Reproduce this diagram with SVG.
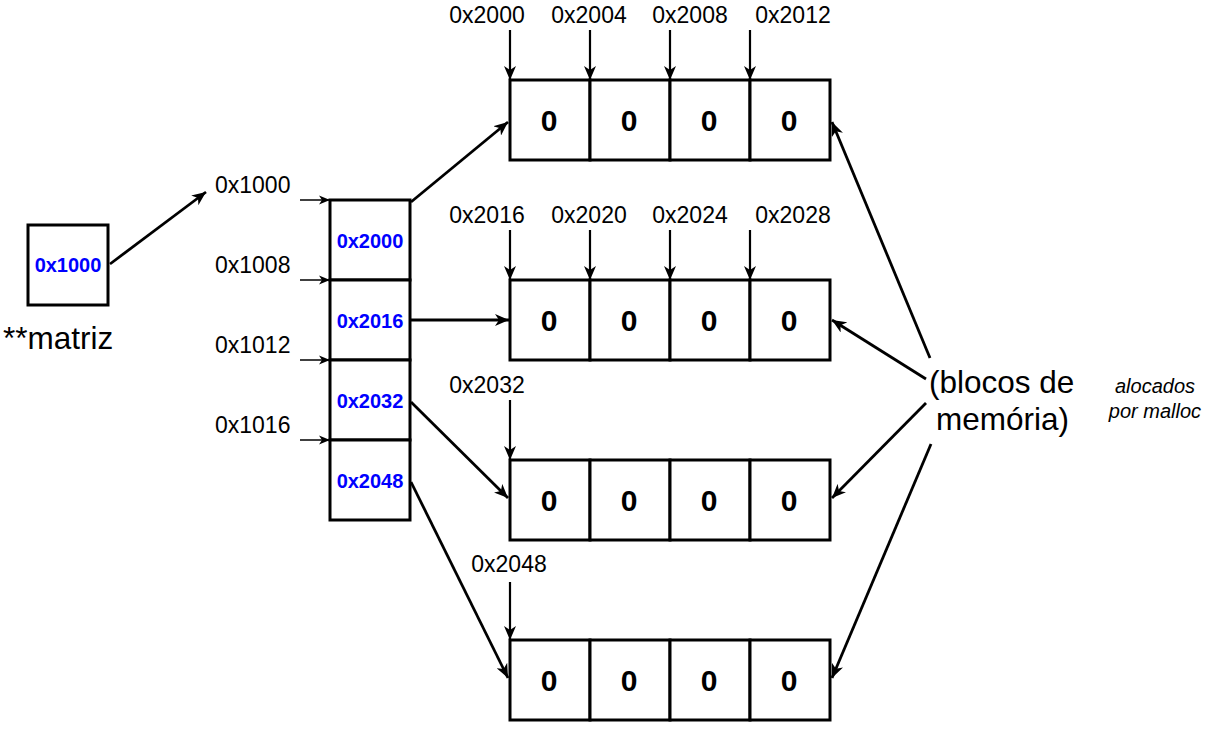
<svg xmlns="http://www.w3.org/2000/svg" width="1225" height="730" viewBox="0 0 1225 730">
<style>
.box{fill:#fff;stroke:#000;stroke-width:3}
.zero{font-family:"Liberation Sans",Arial,sans-serif;font-weight:bold;font-size:30px;text-anchor:middle;fill:#000}
.ptr{font-family:"Liberation Sans",Arial,sans-serif;font-weight:bold;font-size:20px;text-anchor:middle;fill:#0000ff}
.lbl{font-family:"Liberation Sans",Arial,sans-serif;font-size:23px;fill:#000}
.lblm{font-family:"Liberation Sans",Arial,sans-serif;font-size:23px;fill:#000;text-anchor:middle}
.big{font-family:"Liberation Sans",Arial,sans-serif;font-size:31.5px;fill:#000}
.it{font-family:"Liberation Sans",Arial,sans-serif;font-size:20px;font-style:italic;fill:#000;text-anchor:middle}
.c{fill:none;stroke:#000;stroke-width:2.8}
.cs{fill:none;stroke:#000;stroke-width:1.5}
.cv{fill:none;stroke:#000;stroke-width:2.2}
</style>
<defs>
<marker id="ah" markerUnits="userSpaceOnUse" markerWidth="16" markerHeight="12" refX="14" refY="6" orient="auto">
<path d="M0,0 L14,6 L0,12 L4,6 z" fill="#000"/>
</marker>
<marker id="ahs" markerUnits="userSpaceOnUse" markerWidth="12" markerHeight="10" refX="11" refY="5" orient="auto">
<path d="M0,0.5 L11,5 L0,9.5 L3,5 z" fill="#000"/>
</marker>
</defs>

<g id="matriz">
<rect class="box" x="28" y="225" width="80" height="80"/>
<text class="ptr" x="68" y="272">0x1000</text>
<text class="big" x="3" y="349">**matriz</text>
</g>

<g id="ptr-array">
<rect class="box" x="330" y="200" width="80" height="80"/>
<rect class="box" x="330" y="280" width="80" height="80"/>
<rect class="box" x="330" y="360" width="80" height="80"/>
<rect class="box" x="330" y="440" width="80" height="80"/>
<text class="ptr" x="370" y="248">0x2000</text>
<text class="ptr" x="370" y="328">0x2016</text>
<text class="ptr" x="370" y="408">0x2032</text>
<text class="ptr" x="370" y="488">0x2048</text>
<text class="lbl" x="215" y="193">0x1000</text>
<text class="lbl" x="215" y="273">0x1008</text>
<text class="lbl" x="215" y="353">0x1012</text>
<text class="lbl" x="215" y="433">0x1016</text>
</g>

<g id="row1">
<rect class="box" x="510" y="80" width="80" height="80"/>
<rect class="box" x="590" y="80" width="80" height="80"/>
<rect class="box" x="670" y="80" width="80" height="80"/>
<rect class="box" x="750" y="80" width="80" height="80"/>
<text class="zero" x="549" y="131">0</text>
<text class="zero" x="629" y="131">0</text>
<text class="zero" x="709" y="131">0</text>
<text class="zero" x="789" y="131">0</text>
<text class="lblm" x="487" y="23">0x2000</text>
<text class="lblm" x="589" y="23">0x2004</text>
<text class="lblm" x="690" y="23">0x2008</text>
<text class="lblm" x="793" y="23">0x2012</text>
</g>

<g id="row2">
<rect class="box" x="510" y="280" width="80" height="80"/>
<rect class="box" x="590" y="280" width="80" height="80"/>
<rect class="box" x="670" y="280" width="80" height="80"/>
<rect class="box" x="750" y="280" width="80" height="80"/>
<text class="zero" x="549" y="331">0</text>
<text class="zero" x="629" y="331">0</text>
<text class="zero" x="709" y="331">0</text>
<text class="zero" x="789" y="331">0</text>
<text class="lblm" x="487" y="223">0x2016</text>
<text class="lblm" x="589" y="223">0x2020</text>
<text class="lblm" x="690" y="223">0x2024</text>
<text class="lblm" x="793" y="223">0x2028</text>
</g>

<g id="row3">
<rect class="box" x="510" y="460" width="80" height="80"/>
<rect class="box" x="590" y="460" width="80" height="80"/>
<rect class="box" x="670" y="460" width="80" height="80"/>
<rect class="box" x="750" y="460" width="80" height="80"/>
<text class="zero" x="549" y="511">0</text>
<text class="zero" x="629" y="511">0</text>
<text class="zero" x="709" y="511">0</text>
<text class="zero" x="789" y="511">0</text>
<text class="lblm" x="487" y="393">0x2032</text>
</g>

<g id="row4">
<rect class="box" x="510" y="640" width="80" height="80"/>
<rect class="box" x="590" y="640" width="80" height="80"/>
<rect class="box" x="670" y="640" width="80" height="80"/>
<rect class="box" x="750" y="640" width="80" height="80"/>
<text class="zero" x="549" y="691">0</text>
<text class="zero" x="629" y="691">0</text>
<text class="zero" x="709" y="691">0</text>
<text class="zero" x="789" y="691">0</text>
<text class="lblm" x="509" y="572">0x2048</text>
</g>

<g id="blocos">
<text class="big" x="929" y="393">(blocos de</text>
<text class="big" x="936" y="430">memória)</text>
</g>

<g id="alocados">
<text class="it" x="1155" y="393">alocados</text>
<text class="it" x="1155" y="418">por malloc</text>
</g>

<g id="connectors">
<line class="c" x1="110" y1="264" x2="206" y2="192" marker-end="url(#ah)"/>
<line class="cs" x1="300" y1="200" x2="330" y2="200" marker-end="url(#ahs)"/>
<line class="cs" x1="300" y1="280" x2="330" y2="280" marker-end="url(#ahs)"/>
<line class="cs" x1="300" y1="360" x2="330" y2="360" marker-end="url(#ahs)"/>
<line class="cs" x1="300" y1="440" x2="330" y2="440" marker-end="url(#ahs)"/>

<line class="c" x1="411" y1="202" x2="508" y2="122" marker-end="url(#ah)"/>
<line class="c" x1="411" y1="320" x2="509" y2="320" marker-end="url(#ah)"/>
<line class="c" x1="411" y1="402" x2="508" y2="498" marker-end="url(#ah)"/>
<line class="c" x1="411" y1="482" x2="508" y2="678" marker-end="url(#ah)"/>

<line class="cv" x1="510" y1="30" x2="510" y2="80" marker-end="url(#ah)"/>
<line class="cv" x1="590" y1="30" x2="590" y2="80" marker-end="url(#ah)"/>
<line class="cv" x1="670" y1="30" x2="670" y2="80" marker-end="url(#ah)"/>
<line class="cv" x1="750" y1="30" x2="750" y2="80" marker-end="url(#ah)"/>
<line class="cv" x1="510" y1="230" x2="510" y2="280" marker-end="url(#ah)"/>
<line class="cv" x1="590" y1="230" x2="590" y2="280" marker-end="url(#ah)"/>
<line class="cv" x1="670" y1="230" x2="670" y2="280" marker-end="url(#ah)"/>
<line class="cv" x1="750" y1="230" x2="750" y2="280" marker-end="url(#ah)"/>
<line class="cv" x1="510" y1="400" x2="510" y2="460" marker-end="url(#ah)"/>
<line class="cv" x1="510" y1="582" x2="510" y2="640" marker-end="url(#ah)"/>

<line class="c" x1="930" y1="358" x2="832" y2="122" marker-end="url(#ah)"/>
<line class="c" x1="926" y1="379" x2="832" y2="320" marker-end="url(#ah)"/>
<line class="c" x1="926" y1="403" x2="832" y2="498" marker-end="url(#ah)"/>
<line class="c" x1="931" y1="444" x2="832" y2="678" marker-end="url(#ah)"/>
</g>
</svg>
